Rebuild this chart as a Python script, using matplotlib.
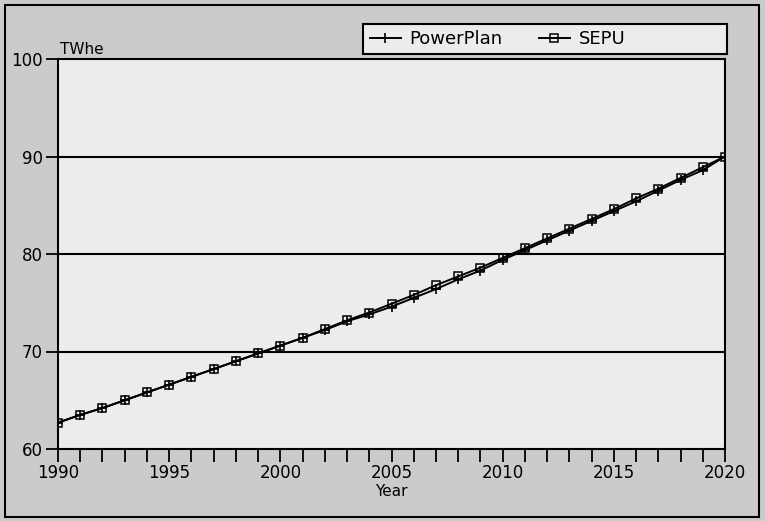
import numpy as np
import matplotlib
matplotlib.use("Agg")
import matplotlib.pyplot as plt
from matplotlib.patches import Rectangle

# electricity demand projections, TWhe
years = list(range(1990, 2021))
powerplan = [62.7, 63.5, 64.2, 65.0, 65.8, 66.6, 67.4, 68.2, 69.0, 69.8,
             70.6, 71.4, 72.2, 73.1, 73.8, 74.6, 75.5, 76.4, 77.4, 78.3,
             79.4, 80.4, 81.4, 82.4, 83.4, 84.4, 85.4, 86.5, 87.6, 88.6, 90.0]
sepu = [62.7, 63.5, 64.2, 65.0, 65.8, 66.6, 67.4, 68.2, 69.0, 69.8,
        70.6, 71.4, 72.3, 73.2, 74.0, 74.9, 75.8, 76.8, 77.7, 78.6,
        79.6, 80.6, 81.6, 82.6, 83.6, 84.6, 85.7, 86.7, 87.8, 88.9, 90.0]
year_labels = [1990, 1995, 2000, 2005, 2010, 2015, 2020]
y_ticks = [60, 70, 80, 90, 100]

plt.rcParams['font.family'] = ['DejaVu Sans']

W, H = 765, 521
fig = plt.figure(figsize=(W/100, H/100), dpi=100, facecolor='#cbcbcb')
ax = fig.add_axes([58/W, 1 - 449/H, (725-58)/W, (449-59)/H])
ax.set_facecolor('#ececec')

# outer frame
fig.patches.append(Rectangle((5/W, 4/H), 754/W, 512/H, transform=fig.transFigure,
                             fill=False, edgecolor='black', linewidth=1.5))

ax.plot(years, powerplan, color='black', linewidth=1.4, marker='+', markersize=7,
        markeredgewidth=1.2, label='PowerPlan')
ax.plot(years, sepu, color='black', linewidth=1.4, marker='s', markersize=5.5,
        markerfacecolor='none', markeredgewidth=1.1, label='SEPU')

for v in [70, 80, 90]:
    ax.axhline(v, color='black', linewidth=1.5, zorder=1)

ax.set_xlim(1990, 2020)
ax.set_ylim(60, 100)
ax.set_xticks(years, minor=True)
ax.set_xticks(year_labels)
ax.set_xticklabels([str(y) for y in year_labels])
ax.set_yticks(y_ticks)
ax.tick_params(axis='x', which='both', direction='out', length=9, width=1.3, labelsize=12, pad=2)
ax.tick_params(axis='y', direction='out', length=9, width=1.3, labelsize=12, pad=2)
for s in ax.spines.values():
    s.set_linewidth(1.5)

ax.set_xlabel("Year", fontsize=11, labelpad=1)
ax.text(0.003, 1.005, "TWhe", transform=ax.transAxes, ha='left', va='bottom', fontsize=11)

# legend box spans more than its entries, so draw the frame separately (behind the legend)
fig.patches.append(Rectangle((363/W, 1 - 54/H), (727-363)/W, 30/H, transform=fig.transFigure,
                             facecolor='#ececec', edgecolor='black', linewidth=1.5, zorder=-1))
leg = ax.legend(loc='center left', bbox_to_anchor=(370/W, 1 - 39/H),
                bbox_transform=fig.transFigure, ncol=2, frameon=False,
                fontsize=13, handlelength=1.7, columnspacing=2.0, borderpad=0,
                handletextpad=0.5, borderaxespad=0)

fig.savefig("out.png", dpi=100, facecolor=fig.get_facecolor())
